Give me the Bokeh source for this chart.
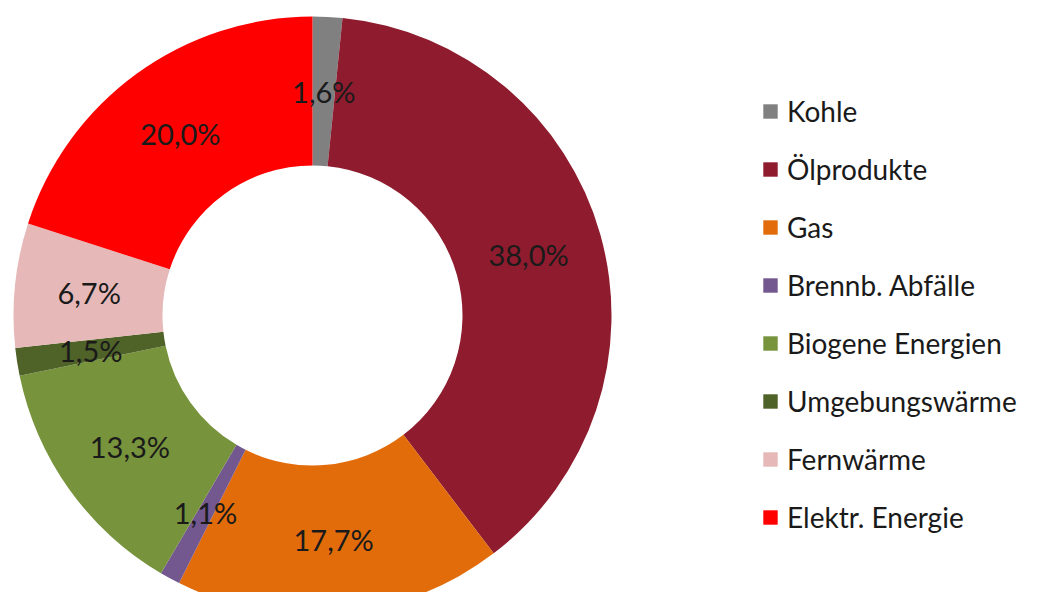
import math
from bokeh.plotting import figure
from bokeh.models import Range1d, ColumnDataSource, Legend, LegendItem
from bokeh.core.properties import value
from bokeh.embed import file_html
from bokeh.resources import INLINE

categories = ["Kohle", "Ölprodukte", "Gas", "Brennb. Abfälle", "Biogene Energien",
              "Umgebungswärme", "Fernwärme", "Elektr. Energie"]
shares = [1.6, 38.0, 17.7, 1.1, 13.3, 1.5, 6.7, 20.0]
labels = ["1,6%", "38,0%", "17,7%", "1,1%", "13,3%", "1,5%", "6,7%", "20,0%"]
colors = ["#808080", "#8E1C2E", "#E36C0A", "#73578F", "#77933C", "#4F6228", "#E6B9B8", "#FF0000"]

W, H = 1026, 592
FONT = "Lato"

total = sum(shares)
starts, ends, mids = [], [], []
acc = 0.0
for s in shares:
    a0 = math.pi / 2 - 2 * math.pi * acc / total
    acc += s
    a1 = math.pi / 2 - 2 * math.pi * acc / total
    starts.append(a0)
    ends.append(a1)
    mids.append((a0 + a1) / 2)

cx, cy = 312, -315
r_in, r_out = 150, 299
r_lab = (r_in + r_out) / 2

src = ColumnDataSource(dict(
    cat=categories, start=starts, end=ends, color=colors, label=labels,
    lx=[cx + r_lab * math.cos(m) for m in mids],
    ly=[cy + r_lab * math.sin(m) for m in mids],
))

p = figure(width=W, height=H, output_backend="svg", toolbar_location=None,
           x_range=Range1d(0, W), y_range=Range1d(-H, 0),
           min_border=0, outline_line_color=None)
p.axis.visible = False
p.grid.visible = False

r = p.annular_wedge(x=cx, y=cy, inner_radius=r_in, outer_radius=r_out,
                    start_angle="start", end_angle="end", direction="clock",
                    fill_color="color", line_color=None, source=src)

p.text(x="lx", y="ly", text="label", source=src, text_align="center",
       text_baseline="middle", text_font=value(FONT), text_font_size="29px",
       text_color="#1a1a1a")

items = [LegendItem(label=c, renderers=[r], index=i) for i, c in enumerate(categories)]
legend = Legend(items=items, location=(761, 58), orientation="vertical",
                glyph_width=18, glyph_height=18, label_standoff=8, spacing=24,
                padding=0, margin=0, border_line_color=None, background_fill_alpha=0,
                label_text_font=FONT, label_text_font_size="28px",
                label_text_color="#1a1a1a")
p.add_layout(legend, "center")

open("out.html", "w").write(file_html(p, INLINE))
